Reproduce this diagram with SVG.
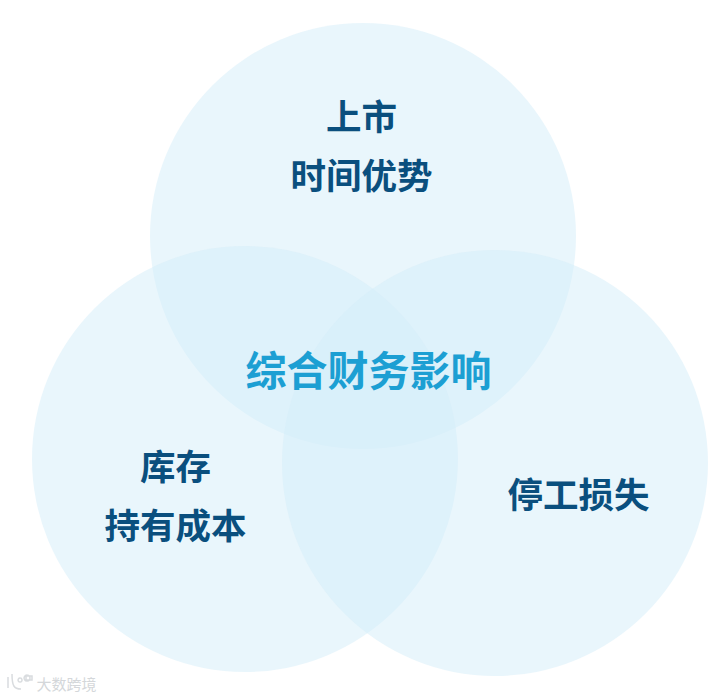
<svg xmlns="http://www.w3.org/2000/svg" width="728" height="699" viewBox="0 0 728 699">
<style>
.c{fill:#d3edfa;fill-opacity:.5}
text{font-family:"Noto Sans CJK SC","Noto Sans",sans-serif;font-weight:700;text-anchor:middle}
.l{font-size:35.5px;fill:#0a4f7e}
.m{font-size:41px;fill:#1c9fd3}
.w{fill:none;stroke:#d9dcdf;stroke-width:1.5}
</style>
<rect width="728" height="699" fill="#fff"/>
<g id="circle-top"><circle class="c" cx="363" cy="236" r="213"/><text class="l" x="361.500" y="130">上市</text><text class="l" x="361.500" y="189">时间优势</text></g>
<g id="circle-left"><circle class="c" cx="245" cy="459" r="213"/><text class="l" x="175.500" y="480">库存</text><text class="l" x="175.500" y="539">持有成本</text></g>
<g id="circle-right"><circle class="c" cx="495" cy="463" r="213"/><text class="l" x="578.500" y="508">停工损失</text></g>
<g id="center"><text class="m" x="368.500" y="386">综合财务影响</text></g>
<g id="connectors"/>
<g id="watermark"><path class="w" d="M8 677v11M12 674c0 12 2 15 9 15M20 678a2 2 0 1 0 .1 0M26 676h6v4h-6zM27 675a3 3 0 1 0 .1 0"/><text x="66.500" y="690" style="font-size:15px;font-weight:400;fill:#d4d7da">大数跨境</text></g>
</svg>
